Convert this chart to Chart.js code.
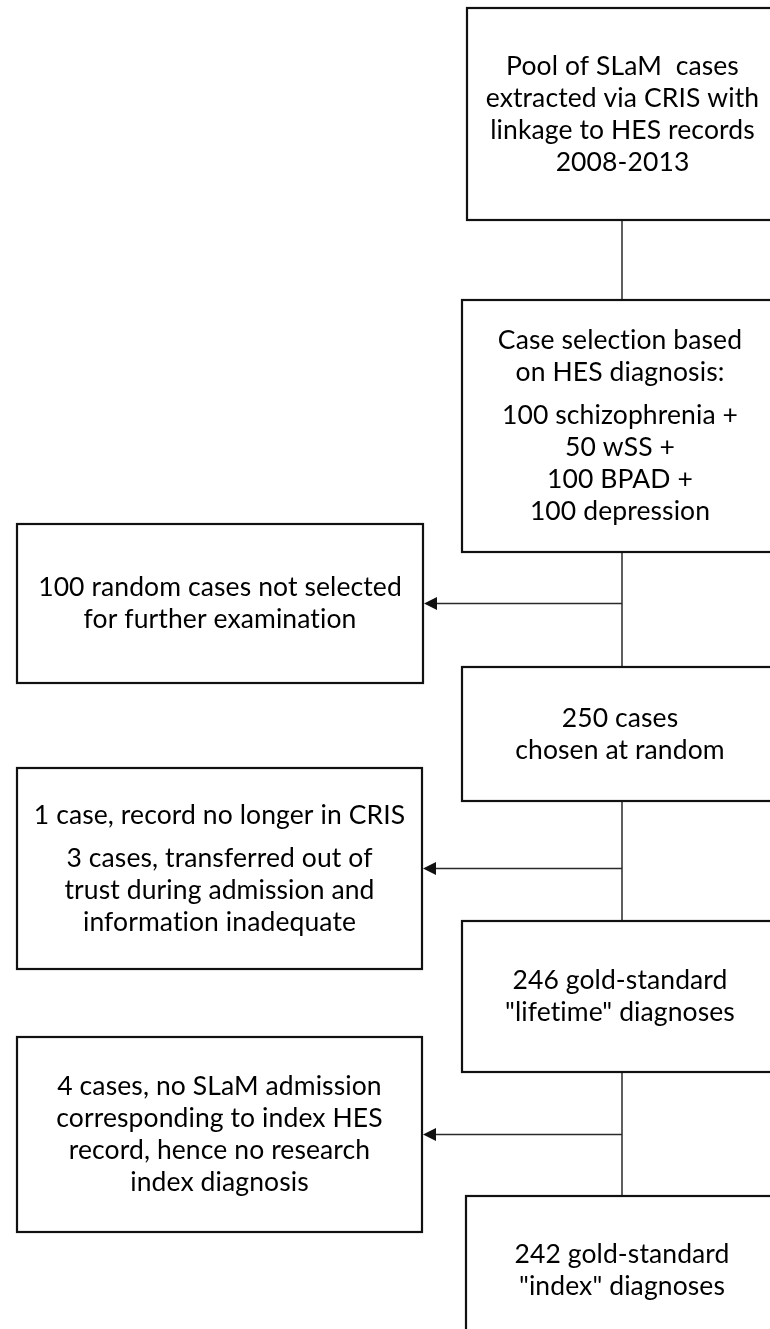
<!DOCTYPE html>
<html>
<head>
<meta charset="utf-8">
<script src="https://cdn.jsdelivr.net/npm/chart.js@4.4.1/dist/chart.umd.min.js"></script>
<style>
  html, body { margin: 0; padding: 0; background: #fff; }
  canvas { display: block; }
</style>
</head>
<body>
<canvas id="flowChart" width="770" height="1329"></canvas>
<script>
// text of each box, paragraphs as sub-arrays
const poolText = [['Pool of SLaM  cases', 'extracted via CRIS with', 'linkage to HES records', '2008-2013']];
const selectionText = [['Case selection based', 'on HES diagnosis:'], ['100 schizophrenia +', '50 wSS +', '100 BPAD +', '100 depression']];
const randomText = [['250 cases', 'chosen at random']];
const lifetimeText = [['246 gold-standard', '"lifetime" diagnoses']];
const indexText = [['242 gold-standard', '"index" diagnoses']];
const notSelectedText = [['100 random cases not selected', 'for further examination']];
const lostText = [['1 case, record no longer in CRIS'], ['3 cases, transferred out of', 'trust during admission and', 'information inadequate']];
const noAdmissionText = [['4 cases, no SLaM admission', 'corresponding to index HES', 'record, hence no research', 'index diagnosis']];

// layout: box frames [left, top, right, bottom] in page units
const mainFrames = [[467, 8, 778, 220], [462, 300, 778, 552], [462, 667, 778, 801], [462, 921, 778, 1072], [466, 1196, 778, 1345]];
const sideFrames = [[17, 524, 423, 683], [17, 768, 422, 969], [17, 1037, 422, 1232]];
const mainTexts = [poolText, selectionText, randomText, lifetimeText, indexText];
const sideTexts = [notSelectedText, lostText, noAdmissionText];
const trunkX = 622;
const lineGap = 32, paraGap = 11, headLen = 13;

const datasets = [];
for (let i = 0; i < mainFrames.length - 1; i++) {
    datasets.push({ data: [{ x: trunkX, y: mainFrames[i][3] }, { x: trunkX, y: mainFrames[i + 1][1] }] });
}
sideFrames.forEach(f => {
    const mid = (f[1] + f[3]) / 2;
    datasets.push({ data: [{ x: trunkX, y: mid }, { x: f[2] + headLen, y: mid }], arrow: true });
});
datasets.forEach(d => Object.assign(d, {
    showLine: true, borderColor: '#2a2a2a', borderWidth: 1.5, pointRadius: 0, fill: false
}));

const boxPlugin = {
    id: 'boxes',
    afterDatasetsDraw(chart) {
        const c = chart.ctx, xs = chart.scales.x, ys = chart.scales.y;
        const px = v => xs.getPixelForValue(v), py = v => ys.getPixelForValue(v);
        c.save();
        // arrow heads
        c.fillStyle = '#111';
        sideFrames.forEach(f => {
            const tip = px(f[2]), y = py((f[1] + f[3]) / 2);
            c.beginPath();
            c.moveTo(tip + 1, y);
            c.lineTo(tip + 1 + headLen, y - 6.5);
            c.lineTo(tip + 1 + headLen, y + 6.5);
            c.closePath();
            c.fill();
        });
        const drawBox = (f, paras) => {
            const l = px(f[0]), t = py(f[1]), r = px(f[2]), b = py(f[3]);
            c.strokeStyle = '#111';
            c.lineWidth = 2.2;
            c.strokeRect(l, t, r - l, b - t);
            const count = paras.reduce((n, p) => n + p.length, 0);
            const total = (count - 1) * lineGap + (paras.length - 1) * paraGap;
            let y = (t + b) / 2 - total / 2;
            c.fillStyle = '#000';
            c.font = '26.5px Lato';
            c.letterSpacing = '0.1px'; // keeps Lato from joining "ti"
            c.textAlign = 'center';
            c.textBaseline = 'middle';
            paras.forEach(p => {
                p.forEach(s => { c.fillText(s, (l + r) / 2, y); y += lineGap; });
                y += paraGap;
            });
        };
        mainFrames.forEach((f, i) => drawBox(f, mainTexts[i]));
        sideFrames.forEach((f, i) => drawBox(f, sideTexts[i]));
        c.restore();
    }
};

const ctx = document.getElementById('flowChart').getContext('2d');
const flowChart = new Chart(ctx, {
    type: 'scatter',
    data: { datasets: datasets },
    options: {
        responsive: false,
        animation: false,
        layout: { padding: 0 },
        scales: {
            x: { type: 'linear', min: 0, max: 770, display: false },
            y: { type: 'linear', min: 0, max: 1329, reverse: true, display: false }
        },
        plugins: { legend: { display: false }, tooltip: { enabled: false } }
    },
    plugins: [boxPlugin]
});
</script>
</body>
</html>
